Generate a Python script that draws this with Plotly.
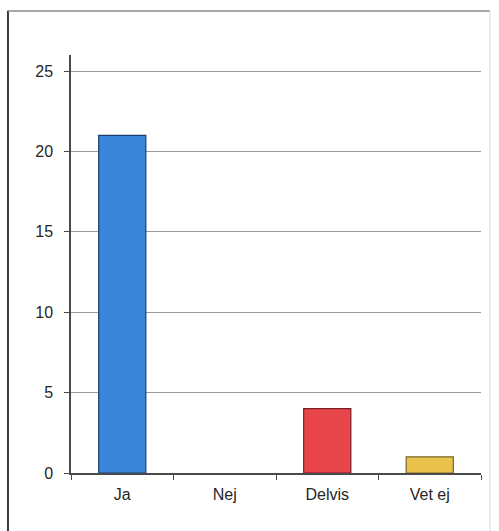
import plotly.graph_objects as go

# Survey answers and counts
categories = ["Ja", "Nej", "Delvis", "Vet ej"]
counts = [21, 0, 4, 1]
bar_colors = ["#3b86dc", "#3b86dc", "#e8464b", "#e9c24c"]
outline_colors = ["#1c3f6e", "#1c3f6e", "#7a2024", "#7a6424"]
outline_widths = [1.2, 0, 1.2, 1.2]
y_ticks = [0, 5, 10, 15, 20, 25]

fig = go.Figure(
    go.Bar(
        x=categories,
        y=counts,
        width=0.46,
        marker=dict(color=bar_colors, line=dict(color=outline_colors, width=outline_widths)),
    )
)

fig.update_layout(
    width=499,
    height=531,
    margin=dict(l=71, r=18, t=55, b=58),
    paper_bgcolor="white",
    plot_bgcolor="white",
    showlegend=False,
    font=dict(family="Liberation Sans, Arial, sans-serif", size=16, color="#262626"),
    shapes=[
        # outer chart frame
        dict(type="line", xref="paper", yref="paper", x0=-0.1537, x1=-0.1537,
             y0=-0.2, y1=1.106, line=dict(color="#3a3a3a", width=2)),
        dict(type="line", xref="paper", yref="paper", x0=-0.1537, x1=1.022,
             y0=1.105, y1=1.105, line=dict(color="#8a8a8a", width=1.5)),
        dict(type="line", xref="paper", yref="paper", x0=1.022, x1=1.022,
             y0=-0.2, y1=1.105, line=dict(color="#e6e6e6", width=1.5)),
    ],
)

fig.update_yaxes(
    range=[0, 26],
    tickvals=y_ticks,
    showgrid=True,
    gridcolor="#9a9a9a",
    gridwidth=1,
    zeroline=False,
    showline=True,
    linecolor="#4a4a4a",
    linewidth=1.5,
    ticks="outside",
    ticklen=5,
    tickcolor="#4a4a4a",
    ticklabelstandoff=8,
)

fig.update_xaxes(
    showline=True,
    linecolor="#4a4a4a",
    linewidth=1.5,
    ticks="outside",
    tickson="boundaries",
    ticklen=5,
    tickcolor="#4a4a4a",
    ticklabelstandoff=6,
    showgrid=False,
)

fig.write_html("out.html")
